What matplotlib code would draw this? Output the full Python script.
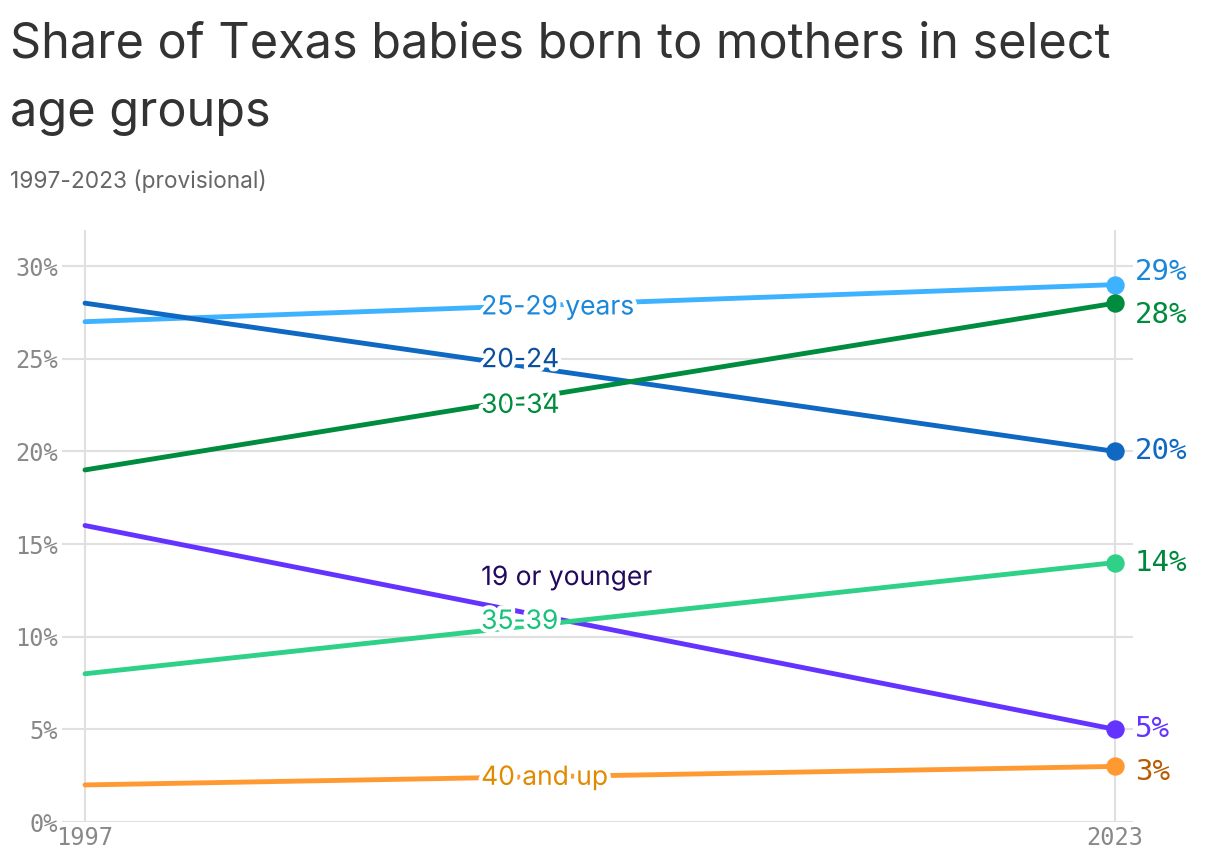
import matplotlib
matplotlib.use("Agg")
import matplotlib.pyplot as plt
import matplotlib.patheffects as pe

# data
years = [1997, 2023]
groups = ["25-29 years", "20-24", "30-34", "19 or younger", "35-39", "40 and up"]
values = {
    "25-29 years": [27, 29],
    "20-24": [28, 20],
    "30-34": [19, 28],
    "19 or younger": [16, 5],
    "35-39": [8, 14],
    "40 and up": [2, 3],
}
end_labels = ["29%", "20%", "28%", "5%", "14%", "3%"]

line_colors = ["#3db2ff", "#0f69c2", "#008c3e", "#6533ff", "#2fd088", "#ff9a33"]
label_colors = ["#1a87d9", "#0a4f9e", "#008c3e", "#22095e", "#17c27a", "#e08a00"]
end_colors = ["#1a87d9", "#0f69c2", "#008c3e", "#6533ff", "#00873e", "#b85c00"]

label_x = 2007
# vertical nudges (in %) for the inline labels
label_dy = [0, 0, 0, 1.4, 0.5, 0]
# vertical nudges for end labels
end_dy = [0.7, 0, -0.65, 0, 0, -0.3]

fig = plt.figure(figsize=(12.2, 8.64), dpi=100)
ax = fig.add_axes([62 / 1220, 1 - 822 / 864, (1133 - 62) / 1220, (822 - 230) / 864])

mono = "DejaVu Sans Mono"
sans = "Inter"

for i, g in enumerate(groups):
    v = values[g]
    ax.plot(years, v, color=line_colors[i], lw=3.5, solid_capstyle="round", zorder=3)
    ax.scatter([years[1]], [v[1]], s=150, color=line_colors[i], zorder=4)
    ly = v[0] + (v[1] - v[0]) * (label_x - years[0]) / (years[1] - years[0]) + label_dy[i]
    ax.text(label_x, ly, g, color=label_colors[i], fontsize=19, family=sans,
            va="center", ha="left", zorder=5,
            path_effects=[pe.withStroke(linewidth=6, foreground="white")])
    ax.text(years[1] + 0.5, v[1] + end_dy[i], end_labels[i], color=end_colors[i],
            fontsize=21, family=mono, va="center", ha="left", zorder=5)

ax.set_xlim(1997 - 23 / 39.6, 2023 + 18 / 39.6)
ax.set_ylim(0, 592 / 18.53)
ax.set_yticks([0, 5, 10, 15, 20, 25, 30])
ax.set_yticklabels(["0%", "5%", "10%", "15%", "20%", "25%", "30%"])
ax.set_xticks(years)
ax.set_xticklabels(["1997", "2023"])
ax.grid(True, color="#e0e0e0", lw=1.5, zorder=0)
for s in ax.spines.values():
    s.set_visible(False)
ax.tick_params(length=0, labelsize=17, labelcolor="#888888", pad=3)
for t in ax.get_xticklabels() + ax.get_yticklabels():
    t.set_family(mono)

fig.text(10 / 1220, 1 - 45 / 864, "Share of Texas babies born to mothers in select",
         fontsize=35, family=sans, color="#333333", va="center", ha="left")
fig.text(10 / 1220, 1 - 113 / 864, "age groups",
         fontsize=35, family=sans, color="#333333", va="center", ha="left")
fig.text(10 / 1220, 1 - 181 / 864, "1997-2023 (provisional)",
         fontsize=16.3, family=sans, color="#666666", va="center", ha="left")

fig.savefig("out.png", dpi=100)
